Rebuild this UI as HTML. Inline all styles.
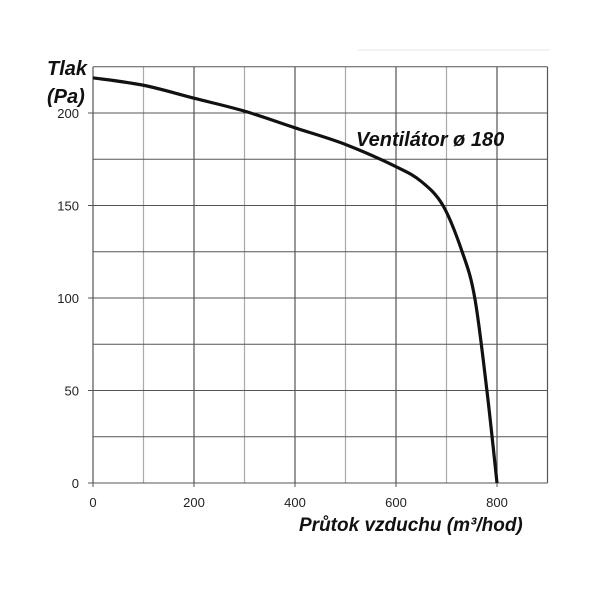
<!DOCTYPE html>
<html><head><meta charset="utf-8"><style>
body{margin:0;background:#fff;width:600px;height:600px;overflow:hidden}
svg{display:block}
text{font-family:"Liberation Sans",sans-serif}
.t{font-weight:bold;font-style:italic;fill:#111}
</style></head><body>
<svg width="600" height="600">
<line x1="358" y1="50" x2="550" y2="50" stroke="#e6e6e6" stroke-width="1"/>
<g id="grid"></g>
<g id="ticks"></g>
<path id="curve" fill="none" stroke="#111" stroke-width="3.2" stroke-linejoin="round"/>
<text class="t" x="47" y="75" font-size="20">Tlak</text>
<text class="t" x="47" y="103" font-size="20">(Pa)</text>
<text class="t" x="356" y="146" font-size="20">Ventilátor ø 180</text>
<text class="t" x="299" y="531" font-size="19">Průtok vzduchu (m³/hod)</text>
</svg>
<script>
const xTicks=[0,200,400,600,800];
const yTicks=[0,50,100,150,200];
const flow=[0,100,200,300,400,500,600,650,693,731,756,780,800];
const pressure=[219,215,208,201,192,183,171,163,150,125,100,50,0];
const X=v=>93+v*0.505, Y=v=>483-v*1.85;
const ns="http://www.w3.org/2000/svg";
const grid=document.getElementById('grid'), ticks=document.getElementById('ticks');
function ln(p,x1,y1,x2,y2,c,w){const l=document.createElementNS(ns,'line');l.setAttribute('x1',x1);l.setAttribute('y1',y1);l.setAttribute('x2',x2);l.setAttribute('y2',y2);l.setAttribute('stroke',c);l.setAttribute('stroke-width',w);p.appendChild(l);return l;}
for(let v=0;v<=900;v+=100){const l=ln(grid,X(v),Y(225),X(v),Y(0),v%200==0||v==900?'#555':'#aaa',1.2);

}
for(let v=0;v<=225;v+=25){const l=ln(grid,X(0),Y(v),X(900),Y(v),'#555',1);

}
xTicks.forEach(v=>{const t=document.createElementNS(ns,'text');t.setAttribute('x',X(v));t.setAttribute('y',507);t.setAttribute('font-size','13');t.setAttribute('text-anchor','middle');t.setAttribute('fill','#222');t.textContent=v;


ticks.appendChild(t);ln(ticks,X(v),Y(0),X(v),Y(0)+4,'#555',1);});
yTicks.forEach(v=>{const t=document.createElementNS(ns,'text');t.setAttribute('x',79);t.setAttribute('y',Y(v)+5);t.setAttribute('font-size','13');t.setAttribute('text-anchor','end');t.setAttribute('fill','#222');t.textContent=v;


ticks.appendChild(t);ln(ticks,X(0)-5,Y(v),X(0),Y(v),'#555',1);});
// smooth path via Catmull-Rom
const pts=flow.map((f,i)=>[X(f),Y(pressure[i])]);
let d='M'+pts[0][0]+','+pts[0][1];
for(let i=0;i<pts.length-1;i++){const p0=pts[i-1]||pts[i],p1=pts[i],p2=pts[i+1],p3=pts[i+2]||p2;
d+=` C${p1[0]+(p2[0]-p0[0])/6},${p1[1]+(p2[1]-p0[1])/6} ${p2[0]-(p3[0]-p1[0])/6},${p2[1]-(p3[1]-p1[1])/6} ${p2[0]},${p2[1]}`;}
document.getElementById('curve').setAttribute('d',d);
</script>
</body></html>
